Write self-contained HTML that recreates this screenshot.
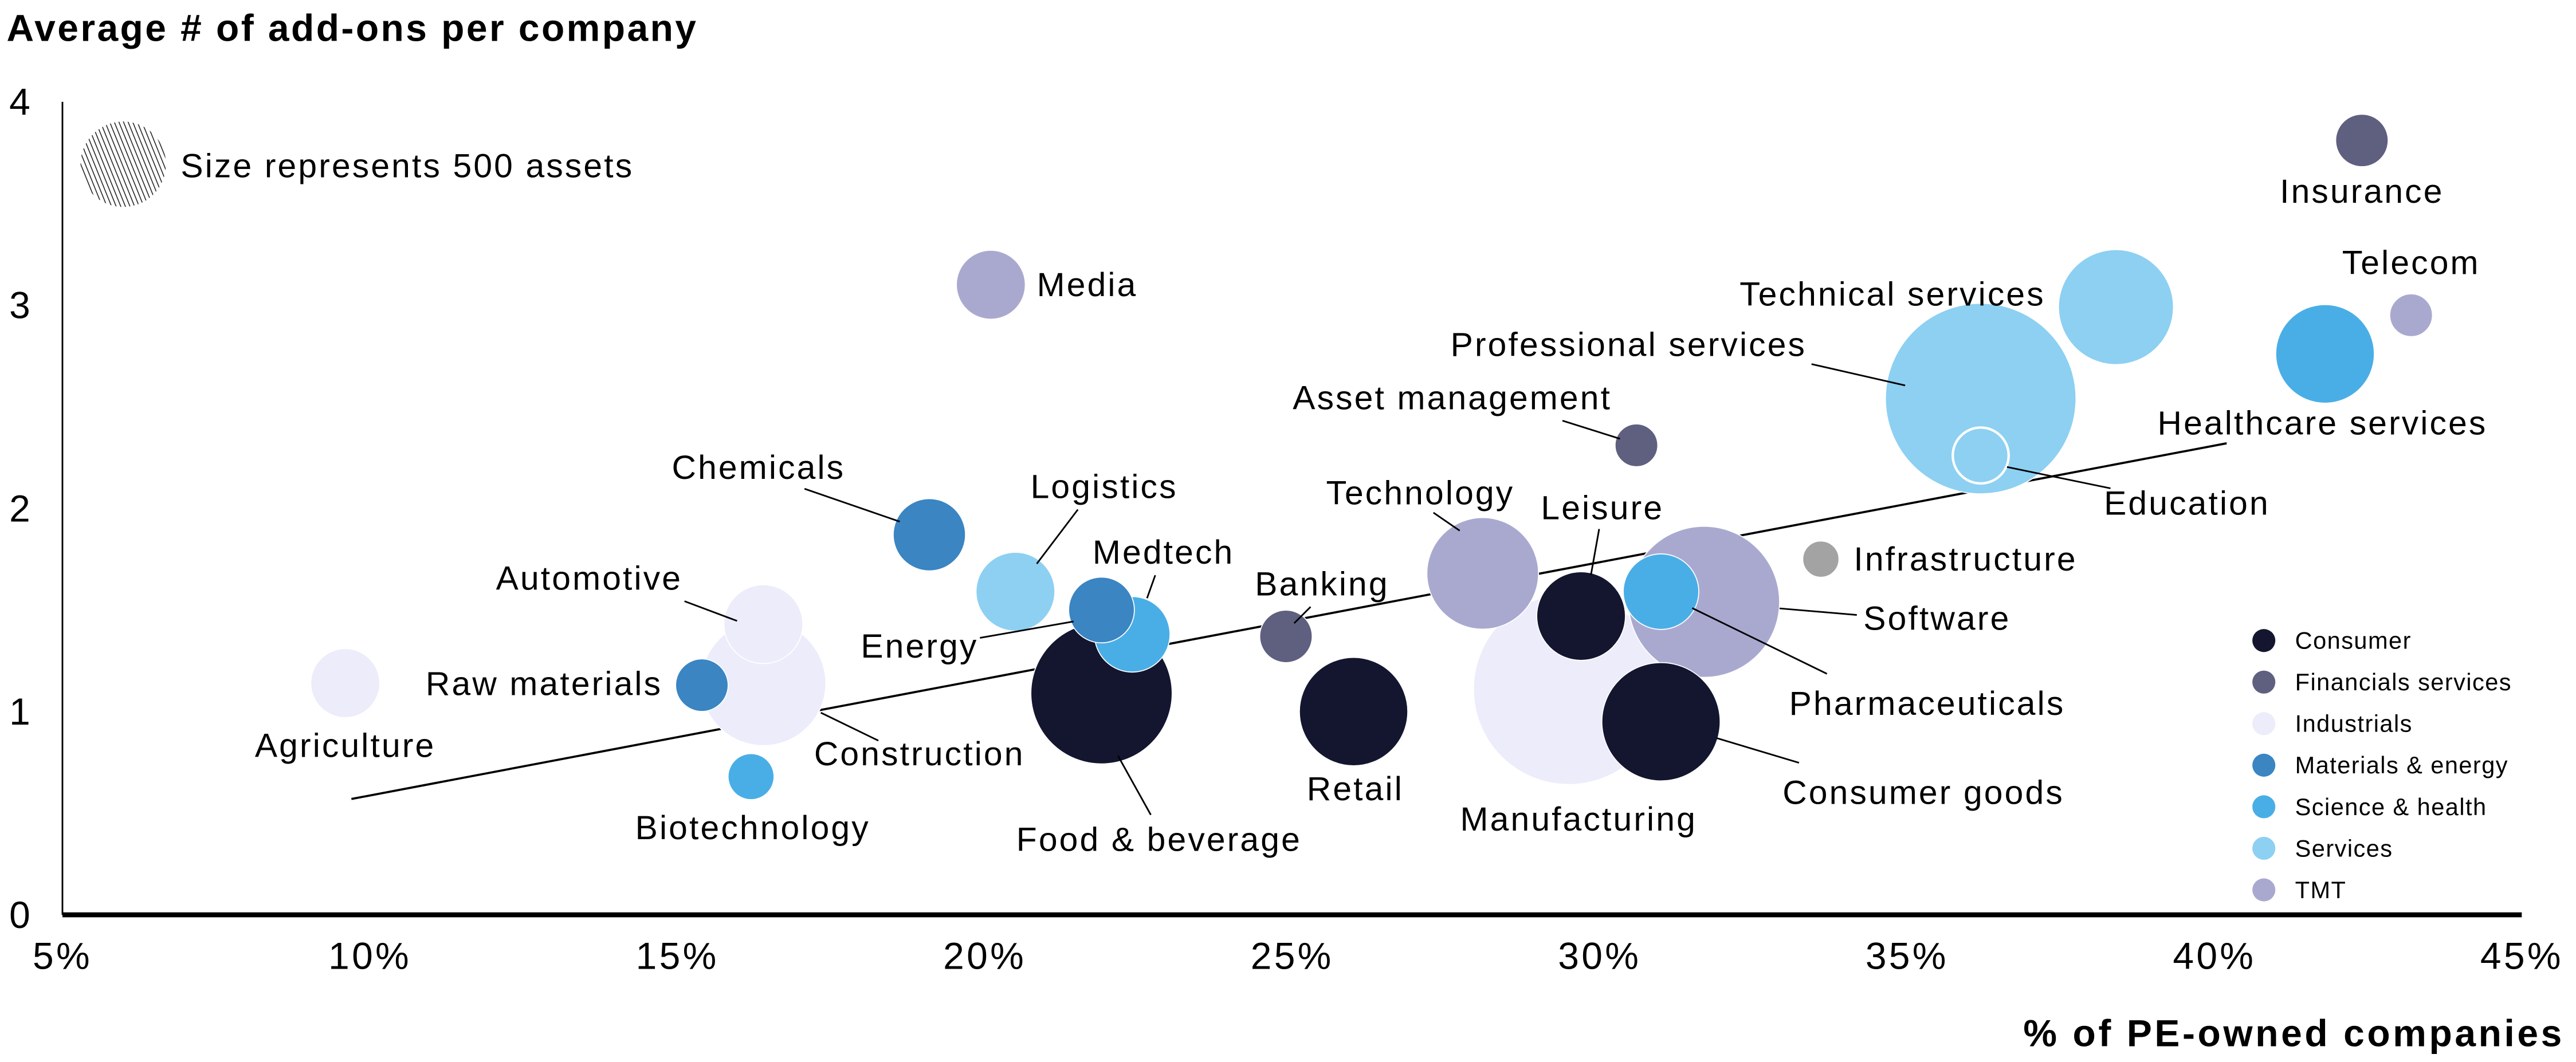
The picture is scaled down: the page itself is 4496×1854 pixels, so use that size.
<!DOCTYPE html>
<html><head><meta charset="utf-8"><style>
html,body{margin:0;padding:0;background:#fff;}
svg{display:block;font-family:"Liberation Sans",Arial,sans-serif;}
</style></head><body>
<svg id="chart" width="4496" height="1854" viewBox="0 0 1568 646.6" xmlns="http://www.w3.org/2000/svg">
<defs>
<pattern id="hatch" patternUnits="userSpaceOnUse" width="2.6" height="2.6" patternTransform="rotate(-22)">
<rect width="2.6" height="2.6" fill="#fff"/><line x1="0" y1="0" x2="0" y2="2.6" stroke="#222" stroke-width="1.1"/>
</pattern>
</defs>
<text x="4" y="25" font-size="23" font-weight="bold" letter-spacing="1.2" fill="#000">Average # of add-ons per company</text>
<text x="1561" y="637" font-size="23" font-weight="bold" letter-spacing="1.6" text-anchor="end" fill="#000">% of PE-owned companies</text>
<circle cx="75" cy="100" r="26" fill="url(#hatch)"/>
<text x="110" y="108" font-size="20.5" letter-spacing="1.1" fill="#000">Size represents 500 assets</text>
<g id="axes"></g>
<g id="trend"></g>
<g id="bubbles"></g>
<g id="labels"></g>
<g id="legend"></g>
</svg>
<script>
const names = ["Insurance","Telecom","Healthcare services","Technical services","Professional services","Education","Asset management","Infrastructure","Software","Pharmaceuticals","Leisure","Manufacturing","Consumer goods","Technology","Retail","Banking","Food & beverage","Medtech","Energy","Logistics","Media","Chemicals","Automotive","Construction","Raw materials","Biotechnology","Agriculture"];
const xValues = [42.4,43.2,41.8,38.4,36.2,36.2,30.6,33.6,31.7,31.0,29.7,29.5,31.0,28.1,26.0,24.9,21.9,22.4,21.9,20.5,20.1,19.1,16.4,16.4,15.4,16.2,9.6];
const yValues = [3.81,2.95,2.76,2.99,2.54,2.26,2.31,1.75,1.54,1.59,1.47,1.11,0.95,1.68,1.0,1.37,1.09,1.38,1.5,1.59,3.1,1.87,1.43,1.14,1.13,0.68,1.14];
const assets = [189,125,666,906,2488,214,125,90,1565,391,539,2488,959,855,805,189,1368,391,296,426,326,358,426,1068,189,145,326];
const groups = ["fin","tmt","sci","svc","svc","svc","fin","oth","tmt","sci","con","ind","con","tmt","con","fin","con","sci","mat","svc","tmt","mat","ind","ind","mat","sci","ind"];
const xTicks = [5,10,15,20,25,30,35,40,45];
const yTicks = [0,1,2,3,4];
const trendX = [9.7,40.2];
const trendY = [0.57,2.32];
const legendLabels = ["Consumer","Financials services","Industrials","Materials & energy","Science & health","Services","TMT"];
const legendKeys = ["con","fin","ind","mat","sci","svc","tmt"];
const colors = {con:"#13162e",fin:"#5f5f80",ind:"#ececfa",mat:"#3a85c2",sci:"#4aaee6",svc:"#8dd0f2",tmt:"#a9a9d0",oth:"#a3a3a3"};
const labelLayout = [
["middle",0,38,null],["middle",0,-25,null],["start",-102,49,null],["end",-43,-1,null],
["end",-106,-26,[-103,-21,-46,-8]],["start",75,36,[16,7,79,20]],["end",-15,-22,[-45,-15,-10,-4]],
["start",20,7,null],["start",97,17,[46,4,93,8]],["start",78,75,[19,10,101,50]],
["middle",13,-59,[11,-53,6,-25]],["middle",6,86,null],["start",74,50,[34,10,84,25]],
["middle",-38,-42,[-30,-37,-14,-26]],["middle",1,54,null],["middle",22,-25,[15,-18,5,-8]],
["middle",35,96,[10,38,30,74]],["middle",19,-43,[14,-36,9,-22]],["end",-75,29,[-74,17,-17,7]],
["middle",54,-57,[38,-50,13,-17]],["start",28,7,null],["middle",-104,-34,[-76,-28,-18,-8]],
["middle",-106,-21,[-48,-14,-16,-2]],["middle",95,50,[35,18,70,35]],["end",-24,6,null],
["middle",1,38,null],["middle",0,45,null]];
const X0=38,X1=1535,Y0=557,YU=123.75;
const xS=v=>X0+(v-5)/40*(X1-X0);
const yS=v=>Y0-v*YU;
const rS=a=>26*Math.sqrt(a/500);
const NS="http://www.w3.org/2000/svg";
function mk(tag,attrs,parent){const e=document.createElementNS(NS,tag);for(const k in attrs)e.setAttribute(k,attrs[k]);parent.appendChild(e);return e;}
const axes=document.getElementById('axes');
let yl=mk('line',{x1:X0,y1:62,x2:X0,y2:Y0,stroke:"#000","stroke-width":1},axes);


let xl=mk('line',{x1:X0,y1:Y0,x2:X1,y2:Y0,stroke:"#000","stroke-width":3},axes);


xTicks.forEach(t=>{const e=mk('text',{x:xS(t),y:590,"font-size":23,"letter-spacing":1.5,"text-anchor":"middle"},axes);e.textContent=t+"%";

});
yTicks.forEach(t=>{const e=mk('text',{x:12,y:yS(t)+8,"font-size":23,"text-anchor":"middle"},axes);e.textContent=t;

});
const tl=mk('line',{x1:xS(trendX[0]),y1:yS(trendY[0]),x2:xS(trendX[1]),y2:yS(trendY[1]),stroke:"#000","stroke-width":1.3},document.getElementById('trend'));


const bg=document.getElementById('bubbles'),lg=document.getElementById('labels');
const order=names.map((n,i)=>i).sort((a,b)=>assets[b]-assets[a]);
order.forEach(i=>{
 const c=mk('circle',{cx:xS(xValues[i]),cy:yS(yValues[i]),r:rS(assets[i]),fill:colors[groups[i]],stroke:"#fff","stroke-width":names[i]==="Education"?1.5:0.6},bg);
 
 
});
names.forEach((n,i)=>{
 const cx=xS(xValues[i]),cy=yS(yValues[i]),L=labelLayout[i];
 if(L[3]){const l=mk('line',{x1:cx+L[3][0],y1:cy+L[3][1],x2:cx+L[3][2],y2:cy+L[3][3],stroke:"#000","stroke-width":1},lg);
 
 }
 const t=mk('text',{x:cx+L[1],y:cy+L[2],"font-size":20.5,"letter-spacing":1.1,"text-anchor":L[0]},lg);t.textContent=n;
 
 
});
const leg=document.getElementById('legend');
legendLabels.forEach((s,i)=>{const y=390+i*25.3;
 const c=mk('circle',{cx:1378,cy:y,r:7,fill:colors[legendKeys[i]]},leg);
 
 
 const t=mk('text',{x:1397,y:y+5,"font-size":14.5,"letter-spacing":0.5},leg);t.textContent=s;
 
 
});
</script>
</body></html>
